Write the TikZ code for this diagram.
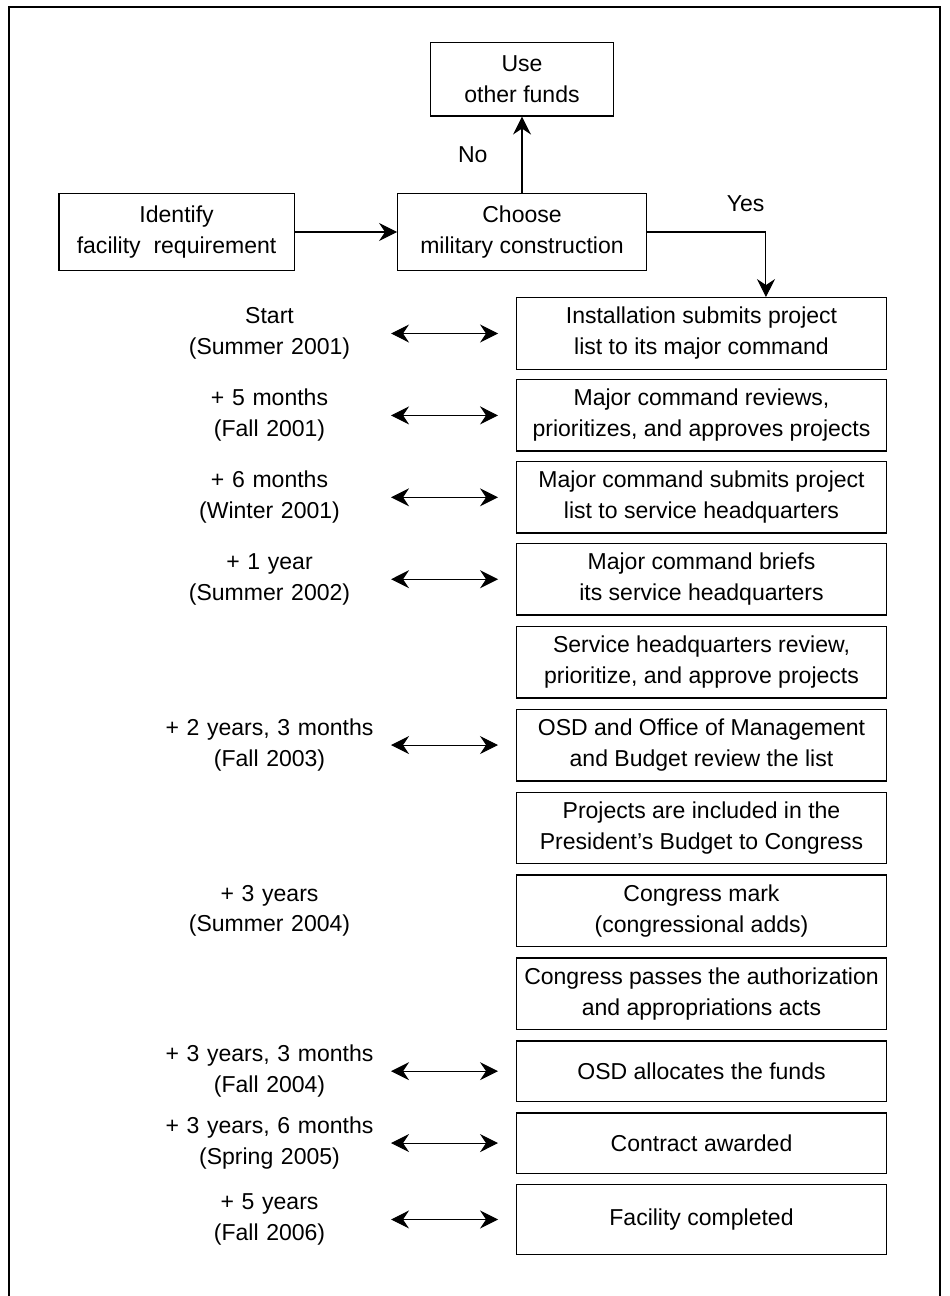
\documentclass[tikz,border=0pt]{standalone}
\usepackage{fontspec}
\setmainfont{Liberation Sans}
\usetikzlibrary{arrows.meta,positioning}

\begin{document}
\begin{tikzpicture}[x=0.2mm,y=-0.2mm,>={Stealth[length=3.6mm,width=3.6mm,inset=1.2mm]},
                    line width=0.6pt,node distance=2mm]
  \tikzstyle{every node}=[font=\fontsize{13.1}{17.6}\selectfont]
  \tikzstyle{topbox}=[draw,line width=0.8pt,align=center]
  \tikzstyle{stepbox}=[draw,line width=0.8pt,align=center,minimum width=73.9mm,minimum height=14.3mm]
  \tikzstyle{when}=[align=center,text width=44mm,inner sep=0pt]
  \tikzstyle{dbl}=[<->,shorten <=2.2mm,shorten >=3.6mm]

  \useasboundingbox[fill=white] (0,0) rectangle (949,1296);
  \draw[line width=0.8pt] (9,1296) -- (9,7) -- (940,7) -- (940,1296);

  % decision at the top
  \node[topbox,minimum width=49.7mm,minimum height=15.5mm] (choose) at (522,232) {Choose\\military construction};
  \node[topbox,minimum width=47.1mm,minimum height=15.3mm] (ident) [left=20.4mm of choose] {Identify\\facility~~requirement};
  \node[topbox,minimum width=36.7mm,minimum height=14.7mm] (use) [above=15.2mm of choose] {Use\\other funds};
  \coordinate[right=23.8mm of choose.east] (yesbend);

  % steps
  \node[stepbox] (b1) at (701.5,333.5) {Installation submits project\\list to its major command};
  \node[stepbox] (b2) [below=1.8mm of b1] {Major command reviews,\\prioritizes, and approves projects};
  \node[stepbox] (b3) [below=1.8mm of b2] {Major command submits project\\list to service headquarters};
  \node[stepbox] (b4) [below=1.8mm of b3] {Major command briefs\\its service headquarters};
  \node[stepbox] (b5) [below=of b4] {Service headquarters review,\\prioritize, and approve projects};
  \node[stepbox] (b6) [below=of b5] {OSD and Office of Management\\and Budget review the list};
  \node[stepbox] (b7) [below=of b6] {Projects are included in the\\President’s Budget to Congress};
  \node[stepbox] (b8) [below=of b7] {Congress mark\\(congressional adds)};
  \node[stepbox] (b9) [below=of b8] {Congress passes the authorization\\and appropriations acts};
  \node[stepbox,minimum height=12.1mm] (b10) [below=of b9] {OSD allocates the funds};
  \node[stepbox,minimum height=12.1mm] (b11) [below=of b10] {Contract awarded};
  \node[stepbox,minimum height=13.9mm] (b12) [below=of b11] {Facility completed};

  % timeline
  \node[when] (t1) [left=27.2mm of b1] {Start\\(Summer 2001)};
  \node[when] (t2) [left=27.2mm of b2] {+ 5 months\\(Fall 2001)};
  \node[when] (t3) [left=27.2mm of b3] {+ 6 months\\(Winter 2001)};
  \node[when] (t4) [left=27.2mm of b4] {+ 1 year\\(Summer 2002)};
  \node[when] (t6) [left=27.2mm of b6] {+ 2 years, 3 months\\(Fall 2003)};
  \node[when] (t8) [left=27.2mm of b8] {+ 3 years\\(Summer 2004)};
  \node[when] (t10) [left=27.2mm of b10] {+ 3 years, 3 months\\(Fall 2004)};
  \node[when] (t11) [left=27.2mm of b11] {+ 3 years, 6 months\\(Spring 2005)};
  \node[when] (t12) [left=27.2mm of b12] {+ 5 years\\(Fall 2006)};

  \path[->] (ident)  edge (choose)
            (choose) edge node[left=6.8mm,inner sep=0pt] {No} (use);
  \draw[->] (choose) -- (yesbend) -- (yesbend |- b1.north);
  \node[above left=4mm and 0.2mm of yesbend,inner sep=0pt] (yes) {Yes};

  \path[dbl] (t1) edge (b1)
             (t2) edge (b2)
             (t3) edge (b3)
             (t4) edge (b4)
             (t6) edge (b6)
             (t10) edge (b10)
             (t11) edge (b11)
             (t12) edge (b12);
\end{tikzpicture}
\end{document}
